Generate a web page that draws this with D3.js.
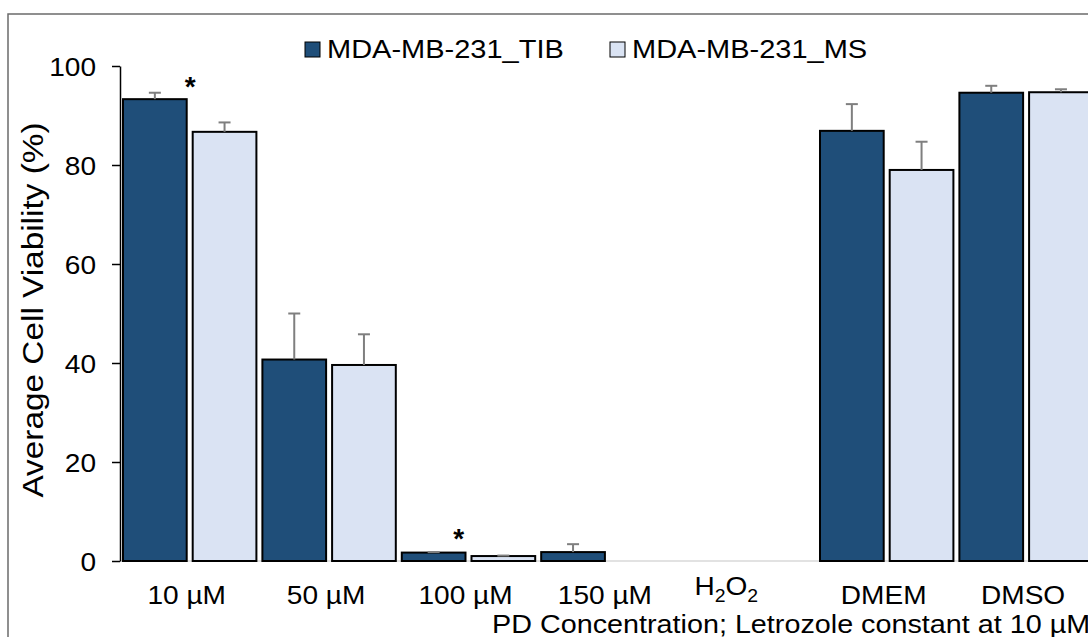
<!DOCTYPE html>
<html>
<head>
<meta charset="utf-8">
<script src="https://cdn.jsdelivr.net/npm/d3@7"></script>
<style>
  html, body { margin: 0; padding: 0; background: #fff; }
  svg { display: block; font-family: "Liberation Sans", Arial, sans-serif; }
</style>
</head>
<body>
<svg id="chart" width="1088" height="637"></svg>
<script>
// ---- data ----
const categories = ["10 µM", "50 µM", "100 µM", "150 µM", "H2O2", "DMEM", "DMSO"];
const seriesNames = ["MDA-MB-231_TIB", "MDA-MB-231_MS"];
const tibValues = [93.3, 40.7, 1.7, 1.8, 0, 86.9, 94.6];
const tibErrors = [1.3, 9.3, 0.1, 1.6, 0, 5.4, 1.4];
const msValues  = [86.7, 39.6, 1.0, 0, 0, 79.0, 94.7];
const msErrors  = [1.9, 6.2, 0.1, 0, 0, 5.7, 0.6];
const yTicks = [0, 20, 40, 60, 80, 100];
const significance = [{ category: "10 µM", value: 97.1 }, { category: "100 µM", value: 5.9 }];
const yTitle = "Average Cell Viability (%)";
const xTitle = "PD Concentration; Letrozole constant at 10 µM";

// ---- layout / style ----
const colors = ["#1F4E79", "#DAE3F3"];
const svg = d3.select("#chart");
const x0 = 120, step = 139.4;
const x = d3.scaleBand().domain(categories).range([x0, x0 + step * categories.length]).paddingInner(0).paddingOuter(0);
const xs = d3.scaleBand().domain(seriesNames).range([0, x.bandwidth()]).paddingInner(0.086).paddingOuter(0.043);
const y = d3.scaleLinear().domain([0, 100]).range([561, 66]);

// outer border
svg.append("rect").attr("x", 8).attr("y", 14).attr("width", 1300).attr("height", 900)
  .attr("fill", "none").attr("stroke", "#6b6b6b").attr("stroke-width", 1.5);

function stext(sel, t, px, py, size, sx, anchor, rot) {
  return sel.append("text")
    .attr("transform", `translate(${px},${py})` + (rot ? ` rotate(${rot})` : "") + ` scale(${sx},1)`)
    .attr("font-size", size).attr("text-anchor", anchor || "start").attr("fill", "#000").text(t);
}

// x axis baseline
svg.append("line").attr("x1", x0).attr("x2", 1100).attr("y1", y(0)).attr("y2", y(0))
  .attr("stroke", "#d9d9d9").attr("stroke-width", 1.5);

// bars
const rows = categories.map((c, i) => [
  { c, s: seriesNames[0], v: tibValues[i], e: tibErrors[i], k: 0 },
  { c, s: seriesNames[1], v: msValues[i], e: msErrors[i], k: 1 }
]).flat().filter(d => d.v > 0);

const g = svg.append("g");
g.selectAll("rect.bar").data(rows).join("rect").attr("class", "bar")
  .attr("x", d => x(d.c) + xs(d.s)).attr("width", xs.bandwidth())
  .attr("y", d => y(d.v)).attr("height", d => y(0) - y(d.v))
  .attr("fill", d => colors[d.k]).attr("stroke", "#000").attr("stroke-width", 2);

// error bars
const eb = g.selectAll("g.err").data(rows.filter(d => d.e > 0)).join("g").attr("class", "err")
  .attr("stroke", "#7f7f7f").attr("stroke-width", 2);
eb.append("line")
  .attr("x1", d => x(d.c) + xs(d.s) + xs.bandwidth() / 2).attr("x2", d => x(d.c) + xs(d.s) + xs.bandwidth() / 2)
  .attr("y1", d => y(d.v)).attr("y2", d => y(d.v + d.e));
eb.append("line")
  .attr("x1", d => x(d.c) + xs(d.s) + xs.bandwidth() / 2 - 6).attr("x2", d => x(d.c) + xs(d.s) + xs.bandwidth() / 2 + 6)
  .attr("y1", d => y(d.v + d.e)).attr("y2", d => y(d.v + d.e));

// y axis
const yAxis = svg.append("g").attr("transform", `translate(${x0},0)`)
  .call(d3.axisLeft(y).tickValues(yTicks).tickSize(8).tickSizeOuter(0).tickFormat(""));
yAxis.select(".domain").attr("stroke", "#000").attr("stroke-width", 1.5);
yAxis.selectAll(".tick line").attr("stroke", "#000").attr("stroke-width", 1.5);
yTicks.forEach(t => stext(svg, String(t), 96, y(t) + 9.5, 26, 1.08, "end"));

// x labels
categories.forEach(c => {
  const cx = x(c) + x.bandwidth() / 2 - 3;
  if (/\d/.test(c) && !/µM/.test(c)) {
    // chemical formula with subscripts
    const t = svg.append("text").attr("transform", `translate(${cx - 18},602) scale(1.08,1)`)
      .attr("font-size", 26).attr("text-anchor", "middle");
    c.split(/(\d+)/).filter(s => s).forEach(part => {
      if (/^\d+$/.test(part)) t.append("tspan").attr("font-size", 18).attr("dy", 7).text(part);
      else t.append("tspan").attr("dy", t.selectAll("tspan").size() ? -7 : 0).text(part);
    });
  } else {
    stext(svg, c, cx, 604, 26, 1.08, "middle");
  }
});

// significance asterisks
const astOffset = { "10 µM": 3.5, "100 µM": -6.7 };
significance.forEach(s => {
  svg.append("text").attr("x", x(s.category) + x.bandwidth() / 2 - 3 + astOffset[s.category])
    .attr("y", y(s.value) + 16).attr("text-anchor", "middle")
    .attr("font-size", 28).attr("font-weight", "bold").text("*");
});

// axis titles
stext(svg, yTitle, 43, 310, 29, 1.15, "middle", -90);
stext(svg, xTitle, 492, 633, 25, 1.15, "start");

// legend
const legX = [305, 610];
seriesNames.forEach((n, i) => {
  svg.append("rect").attr("x", legX[i]).attr("y", 42).attr("width", 15).attr("height", 15)
    .attr("fill", colors[i]).attr("stroke", "#000").attr("stroke-width", 1);
  stext(svg, n, legX[i] + 22, 57.5, 25, 1.16, "start");
});
</script>
</body>
</html>
